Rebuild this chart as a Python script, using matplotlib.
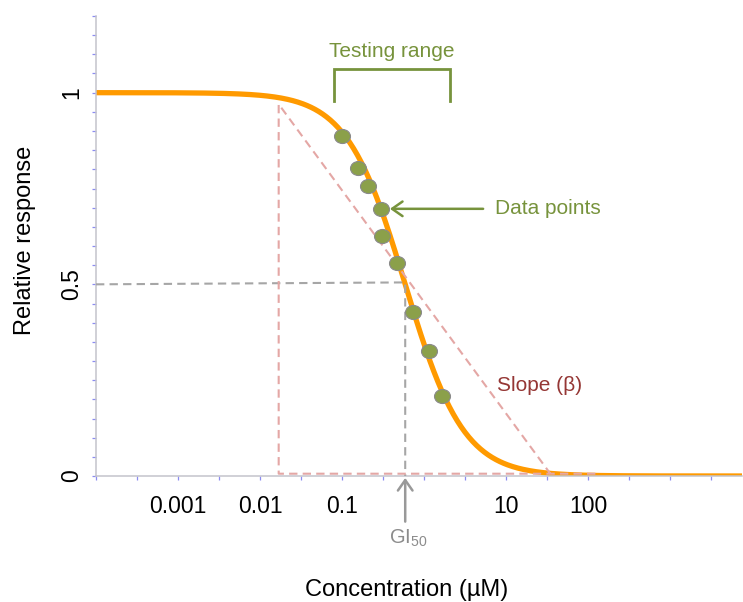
import matplotlib.pyplot as plt
import numpy as np
from matplotlib.path import Path
from matplotlib.markers import MarkerStyle
from matplotlib.ticker import MultipleLocator, NullLocator
from matplotlib.transforms import Affine2D

plt.rcParams['font.family'] = ['Liberation Sans', 'DejaVu Sans']
plt.rcParams['mathtext.fontset'] = 'custom'
plt.rcParams['mathtext.rm'] = 'Liberation Sans'

# fitted dose-response model
gi50 = 0.59          # uM
hill = 1.22

# measured points inside the testing range
conc = [0.101, 0.155, 0.21, 0.30, 0.305, 0.47, 0.74, 1.16, 1.67]
response = [0.888, 0.803, 0.757, 0.697, 0.625, 0.555, 0.429, 0.325, 0.210]

test_lo, test_hi = 0.0794, 2.08

# slope construction (triangle under the curve)
slope_top = (0.0169, 0.97)
slope_foot = (34.7, 0.006)
base_end = 123.0

xtick_names = {0.001: '0.001', 0.01: '0.01', 0.1: '0.1', 10.0: '10', 100.0: '100'}
ytick_values = [0, 0.5, 1]
ytick_names = ['0', '0.5', '1']

orange = '#ff9a00'
green = '#77933c'
pink = '#e4a7a5'
grey = '#a6a6a6'

fig = plt.figure(figsize=(7.43, 6.02), dpi=100)
ax = fig.add_axes([96 / 743, 126 / 602, 646 / 743, 460 / 602])

xmin, xmax = 1e-4, 10 ** 3.878
ax.set_xscale('log')
ax.set_xlim(xmin, xmax)
ax.set_ylim(0, 1.2)

# curve
x = np.logspace(np.log10(xmin), np.log10(xmax), 500)
y = 1.0 / (1.0 + (x / gi50) ** hill)
ax.plot(x, y, color=orange, lw=3.8, solid_capstyle='butt', zorder=2)

# guides to GI50
ax.plot([xmin, gi50, gi50], [0.5, 0.505, 0], color=grey, lw=1.5,
        dashes=(4, 2.5), zorder=3)

# slope triangle
ax.plot([base_end, slope_top[0], slope_top[0], slope_foot[0]],
        [slope_foot[1], slope_foot[1], slope_top[1], slope_foot[1]],
        color=pink, lw=1.5, dashes=(4, 2.5), zorder=3)

# data points as slightly flattened ellipses
circ = Path.unit_circle()
ellipse = MarkerStyle(circ.transformed(Affine2D().scale(1.0, 0.88)))
ax.plot(conc, response, ls='none', marker=ellipse, ms=11.5,
        mfc='#8ba04a', mec='#8a8a8a', mew=0.8, zorder=4)

# testing range bracket
ax.plot([test_lo, test_lo, test_hi, test_hi], [0.977, 1.061, 1.061, 0.977],
        color=green, lw=2, solid_joinstyle='miter', clip_on=False)
ax.text(np.sqrt(test_lo * test_hi), 1.108, 'Testing range', color=green,
        fontsize=15, ha='center', va='center')

ax.annotate('', xy=(0.384, 0.697), xytext=(5.26, 0.697),
            arrowprops=dict(arrowstyle='->,head_length=0.5,head_width=0.35',
                            color=green, lw=1.8, mutation_scale=15,
                            shrinkA=0, shrinkB=0))
ax.text(7.4, 0.697, 'Data points', color=green, fontsize=15,
        ha='left', va='center')

ax.text(7.74, 0.237, 'Slope (β)', color='#953735', fontsize=15,
        ha='left', va='center')

ax.annotate('', xy=(gi50, -0.005), xytext=(gi50, -0.119),
            annotation_clip=False,
            arrowprops=dict(arrowstyle='->,head_length=0.5,head_width=0.35',
                            color='#999999', lw=1.8, mutation_scale=15,
                            shrinkA=0, shrinkB=0))
ax.text(gi50 * 1.08, -0.162, r'GI$_{\mathregular{50}}$', color='#8c8c8c',
        fontsize=14.5, ha='center', va='center', clip_on=False)

# axes styling
for side in ('top', 'right'):
    ax.spines[side].set_visible(False)
for side in ('left', 'bottom'):
    ax.spines[side].set_color('#c4c4cc')
    ax.spines[side].set_linewidth(1.1)

xticks = 10 ** (np.arange(-8, 8) / 2.0)
xticks = xticks[(xticks >= xmin * 0.999) & (xticks <= xmax)]
xlabels = []
for t in xticks:
    name = ''
    for k, v in xtick_names.items():
        if abs(np.log10(t) - np.log10(k)) < 1e-6:
            name = v
    xlabels.append(name)
ax.set_xticks(xticks, xlabels)
ax.xaxis.set_minor_locator(NullLocator())

ax.set_yticks(ytick_values, ytick_names, rotation=90, va='center')
ax.yaxis.set_minor_locator(MultipleLocator(0.05))

ax.tick_params(which='both', direction='out', length=3, width=0.9,
               color='#8c8cf0', labelsize=16.5, labelcolor='black')
ax.tick_params(axis='x', pad=11)
ax.tick_params(axis='y', pad=6.5)

fig.text(407 / 743, 1 - 590 / 602, 'Concentration (µM)', fontsize=17,
         ha='center', va='center')
fig.text(25 / 743, 1 - 240 / 602, 'Relative response', fontsize=17,
         ha='center', va='center', rotation=90)

fig.savefig('out.png', dpi=100)
